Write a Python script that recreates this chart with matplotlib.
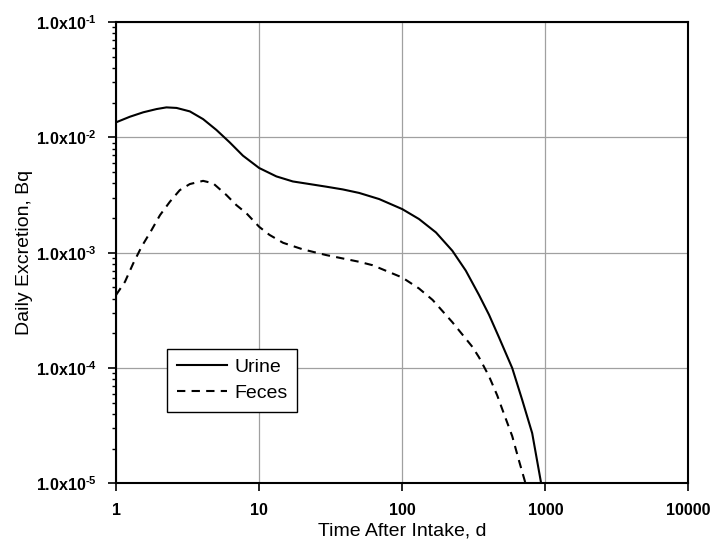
import matplotlib
matplotlib.use('Agg')
import matplotlib.pyplot as plt
from matplotlib.ticker import FixedLocator, LogLocator, NullFormatter, NullLocator

plt.rcParams['font.family'] = ['Liberation Sans', 'DejaVu Sans']
plt.rcParams['mathtext.fontset'] = 'custom'
plt.rcParams['mathtext.rm'] = 'Liberation Sans:bold'
plt.rcParams['mathtext.bf'] = 'Liberation Sans:bold'

# values (days, Bq)
urine_t = [1, 1.25, 1.55, 1.92, 2.25, 2.65, 3.28, 4.06, 5.03, 6.23, 7.71, 10,
           13.2, 17.2, 22.5, 29.4, 38.4, 50, 69, 100, 131, 172, 224, 278,
           344, 404, 474, 587, 689, 809, 935]
urine_bq = [1.35e-2, 1.51e-2, 1.65e-2, 1.76e-2, 1.82e-2, 1.80e-2, 1.68e-2, 1.44e-2,
            1.16e-2, 9.05e-3, 6.94e-3, 5.43e-3, 4.59e-3, 4.15e-3, 3.94e-3, 3.74e-3,
            3.54e-3, 3.3e-3, 2.92e-3, 2.39e-3, 1.96e-3, 1.5e-3, 1.04e-3, 7.0e-4,
            4.3e-4, 2.9e-4, 1.85e-4, 1.0e-4, 5.3e-5, 2.73e-5, 1.0e-5]

feces_t = [1, 1.155, 1.32, 1.51, 1.77, 2.03, 2.38, 2.79, 3.28, 4.06, 4.77, 5.9,
           6.93, 8.15, 10, 11.8, 14.7, 20.2, 29.4, 50, 62, 100, 131, 163, 224,
           309, 344, 404, 461, 500, 587, 653, 727]
feces_bq = [4.3e-4, 5.6e-4, 8.1e-4, 1.13e-3, 1.57e-3, 2.12e-3, 2.77e-3, 3.49e-3,
            3.94e-3, 4.2e-3, 4.0e-3, 3.17e-3, 2.59e-3, 2.2e-3, 1.68e-3, 1.43e-3,
            1.22e-3, 1.07e-3, 9.55e-4, 8.35e-4, 7.8e-4, 6.1e-4, 4.9e-4, 3.9e-4,
            2.5e-4, 1.53e-4, 1.24e-4, 8.5e-5, 5.8e-5, 4.4e-5, 2.57e-5, 1.59e-5, 1.0e-5]

x_ticks = [1, 10, 100, 1000, 10000]
x_labels = ['1', '10', '100', '1000', '10000']
y_ticks = [1e-5, 1e-4, 1e-3, 1e-2, 1e-1]
y_labels = [r'$\mathbf{1.0x10}^{\text{-5}}$', r'$\mathbf{1.0x10}^{\text{-4}}$',
            r'$\mathbf{1.0x10}^{\text{-3}}$', r'$\mathbf{1.0x10}^{\text{-2}}$',
            r'$\mathbf{1.0x10}^{\text{-1}}$']

fig = plt.figure(figsize=(7.13, 5.41), dpi=100)
ax = fig.add_axes([0.1627, 0.1063, 0.8029, 0.8530])

ax.plot(urine_t, urine_bq, color='black', lw=1.5, label='Urine')
ax.plot(feces_t, feces_bq, color='black', lw=1.5, ls=(0, (4, 3)), label='Feces')

ax.set_xscale('log')
ax.set_yscale('log')
ax.set_xlim(1, 10000)
ax.set_ylim(1e-5, 1e-1)

ax.xaxis.set_major_locator(FixedLocator(x_ticks))
ax.set_xticklabels(x_labels, fontweight='bold', fontsize=11.5)
ax.xaxis.set_minor_locator(NullLocator())
ax.yaxis.set_major_locator(FixedLocator(y_ticks))
ax.set_yticklabels(y_labels, fontsize=11.5)
ax.yaxis.set_minor_locator(LogLocator(base=10, subs=range(2, 10)))
ax.yaxis.set_minor_formatter(NullFormatter())

ax.tick_params(which='major', direction='out', length=6, width=1.2, colors='black')
ax.tick_params(which='minor', direction='out', length=3, width=1.0)
ax.tick_params(axis='y', pad=8)
ax.tick_params(axis='x', pad=8)

ax.grid(True, which='major', color='#a0a0a0', lw=0.9)
ax.set_axisbelow(True)
for s in ax.spines.values():
    s.set_linewidth(1.5)

ax.set_xlabel('Time After Intake, d', fontsize=14, labelpad=3)
ax.set_ylabel('Daily Excretion, Bq', fontsize=14, labelpad=2)

leg = ax.legend(loc='lower left', bbox_to_anchor=(0.089, 0.155), borderaxespad=0,
                fontsize=14, handlelength=2.6, handletextpad=0.35, labelspacing=0.45,
                fancybox=False, framealpha=1, edgecolor='black', borderpad=0.5)
leg.get_frame().set_linewidth(1.0)

plt.savefig('out.png', dpi=100)
